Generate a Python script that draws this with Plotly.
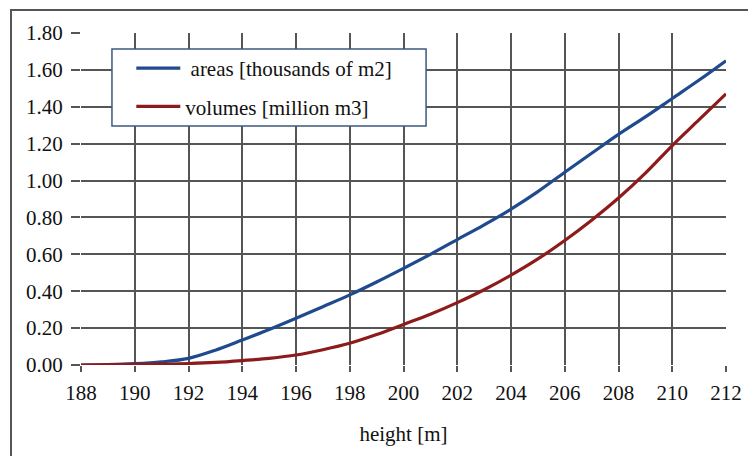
import plotly.graph_objects as go

heights = [188, 189, 190, 191, 192, 193, 194, 195, 196, 197, 198, 199, 200,
           201, 202, 203, 204, 205, 206, 207, 208, 209, 210, 211, 212]
areas = [0.0, 0.002, 0.007, 0.017, 0.036, 0.08, 0.135, 0.192, 0.253, 0.316, 0.38, 0.45, 0.524,
         0.60, 0.68, 0.76, 0.845, 0.94, 1.045, 1.148, 1.25, 1.345, 1.445, 1.545, 1.65]
volumes = [0.0, 0.001, 0.003, 0.005, 0.008, 0.014, 0.024, 0.036, 0.054, 0.083, 0.118, 0.165, 0.22,
           0.275, 0.338, 0.408, 0.487, 0.575, 0.675, 0.785, 0.905, 1.04, 1.19, 1.33, 1.47]
x_ticks = list(range(188, 213, 2))
y_ticks = [0.0, 0.2, 0.4, 0.6, 0.8, 1.0, 1.2, 1.4, 1.6, 1.8]

FONT = "Liberation Serif, Times New Roman, serif"
GRID = "#555555"
FS = 21

fig = go.Figure()
fig.add_trace(go.Scatter(x=heights, y=areas, mode="lines", name=" areas [thousands of m2]",
                         line=dict(color="#1F4B8E", width=3.2, shape="spline"), legendgroup="a"))
fig.add_trace(go.Scatter(x=heights, y=volumes, mode="lines", name="volumes [million m3]",
                         line=dict(color="#8E1B1B", width=3.2, shape="spline"), legendgroup="b"))

fig.update_layout(
    width=748, height=448,
    margin=dict(l=73, r=30, t=25, b=91),
    paper_bgcolor="white", plot_bgcolor="white",
    font=dict(family=FONT, size=FS, color="#111111"),
    showlegend=True,
    legend=dict(x=0.078, y=0.955, xanchor="left", yanchor="top",
                bgcolor="rgba(0,0,0,0)", borderwidth=0,
                font=dict(family=FONT, size=FS, color="#111111"),
                tracegroupgap=8, traceorder="grouped", itemwidth=44),
    xaxis=dict(range=[188, 212], tickvals=x_ticks, ticktext=[str(v) for v in x_ticks],
               showgrid=True, gridcolor=GRID, gridwidth=1.5, zeroline=False,
               showline=False, ticks="outside", ticklen=6, tickcolor=GRID, tickwidth=1.5,
               ticklabelstandoff=3,
               tickfont=dict(family=FONT, size=FS),
               title=dict(text="height [m]", font=dict(family=FONT, size=FS), standoff=22)),
    yaxis=dict(range=[0, 1.8], tickvals=y_ticks, ticktext=["%.2f" % v for v in y_ticks],
               showgrid=True, gridcolor=GRID, gridwidth=1.5, zeroline=False,
               showline=False, ticks="outside", ticklen=9, tickcolor=GRID, tickwidth=1.5,
               ticklabelstandoff=4,
               tickfont=dict(family=FONT, size=FS)),
    shapes=[
        dict(type="rect", xref="paper", yref="paper", x0=-0.1085, x1=1.2, y0=-0.5, y1=1.069,
             line=dict(color="#555555", width=2), fillcolor="rgba(0,0,0,0)", layer="below"),
        dict(type="rect", xref="paper", yref="paper", x0=0.048, x1=0.535, y0=0.72, y1=0.952,
             line=dict(color="#3A5A7E", width=1.5), fillcolor="white", layer="above"),
    ],
)

fig.write_html("out.html")
